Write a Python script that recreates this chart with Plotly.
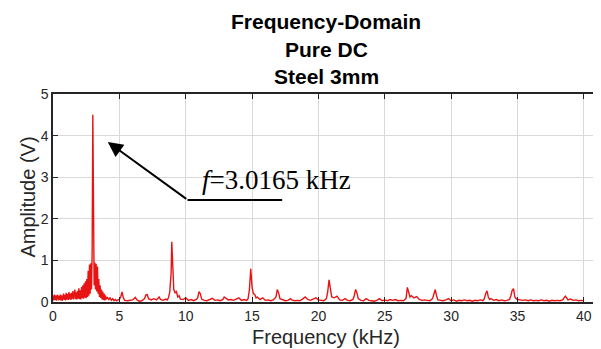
import plotly.graph_objects as go

# Spectrum (frequency in kHz, amplitude in V)
freq_khz = [
    0.00, 0.05, 0.10, 0.15, 0.20, 0.25, 0.30, 0.35, 0.40, 0.45, 0.50, 0.55, 0.60, 0.65, 0.70, 0.75,
    0.80, 0.85, 0.90, 0.95, 1.00, 1.05, 1.10, 1.15, 1.20, 1.25, 1.30, 1.35, 1.40, 1.45, 1.50, 1.55,
    1.60, 1.65, 1.70, 1.75, 1.80, 1.85, 1.90, 1.95, 2.00, 2.05, 2.10, 2.15, 2.20, 2.25, 2.30, 2.35,
    2.40, 2.45, 2.50, 2.55, 2.60, 2.65, 2.70, 2.75, 2.80, 2.85, 2.90, 2.95, 3.00, 3.05, 3.10, 3.15,
    3.20, 3.25, 3.30, 3.35, 3.40, 3.45, 3.50, 3.55, 3.60, 3.65, 3.70, 3.75, 3.80, 3.85, 3.90, 3.95,
    4.00, 4.1, 4.2, 4.3, 4.4, 4.5, 4.6, 4.7, 4.8, 4.9, 5.0, 5.1, 5.2, 5.3, 5.4, 5.6, 5.8, 6.0, 6.1,
    6.2, 6.3, 6.5, 6.7, 6.9, 7.0, 7.1, 7.2, 7.4, 7.6, 7.8, 8.0, 8.1, 8.3, 8.5, 8.6, 8.7, 8.8, 8.9,
    8.95, 9.0, 9.1, 9.2, 9.3, 9.4, 9.5, 9.6, 9.8, 10.0, 10.2, 10.4, 10.6, 10.8, 10.9, 11.0, 11.1,
    11.2, 11.4, 11.6, 11.8, 12.0, 12.2, 12.4, 12.6, 12.8, 12.9, 13.0, 13.2, 13.4, 13.6, 13.8, 14.0,
    14.2, 14.4, 14.6, 14.7, 14.8, 14.9, 15.0, 15.1, 15.2, 15.3, 15.4, 15.6, 15.8, 16.0, 16.2, 16.4,
    16.6, 16.8, 16.9, 17.0, 17.1, 17.3, 17.5, 17.7, 17.9, 18.0, 18.2, 18.4, 18.6, 18.8, 19.0, 19.2,
    19.4, 19.6, 19.8, 20.0, 20.2, 20.4, 20.6, 20.7, 20.8, 20.9, 21.0, 21.2, 21.4, 21.6, 21.8, 22.0,
    22.2, 22.4, 22.6, 22.7, 22.8, 22.9, 23.0, 23.2, 23.4, 23.6, 23.8, 24.0, 24.2, 24.4, 24.6, 24.8,
    25.0, 25.2, 25.4, 25.6, 25.8, 26.0, 26.2, 26.4, 26.6, 26.7, 26.8, 26.9, 27.0, 27.2, 27.4, 27.6,
    27.8, 28.0, 28.2, 28.4, 28.6, 28.7, 28.8, 28.9, 29.0, 29.2, 29.4, 29.6, 29.8, 30.0, 30.2, 30.4,
    30.6, 30.8, 31.0, 31.2, 31.4, 31.6, 31.8, 32.0, 32.2, 32.4, 32.5, 32.6, 32.7, 32.8, 32.9, 33.0,
    33.2, 33.4, 33.6, 33.8, 34.0, 34.2, 34.4, 34.5, 34.6, 34.7, 34.8, 34.9, 35.0, 35.2, 35.4, 35.6,
    35.8, 36.0, 36.2, 36.4, 36.6, 36.8, 37.0, 37.2, 37.4, 37.6, 37.8, 38.0, 38.2, 38.4, 38.5, 38.6,
    38.7, 38.8, 39.0, 39.2, 39.4, 39.6, 39.8, 40.0,
]
amplitude_v = [
    0.15, 0.04, 0.18, 0.05, 0.16, 0.03, 0.14, 0.17, 0.04, 0.15, 0.05, 0.18, 0.04, 0.16, 0.03, 0.14,
    0.20, 0.05, 0.17, 0.04, 0.22, 0.06, 0.19, 0.05, 0.24, 0.07, 0.20, 0.05, 0.22, 0.08, 0.26, 0.06,
    0.21, 0.30, 0.07, 0.23, 0.06, 0.27, 0.08, 0.33, 0.07, 0.28, 0.06, 0.36, 0.09, 0.40, 0.08, 0.45,
    0.10, 0.50, 0.09, 0.55, 0.12, 0.75, 0.15, 0.90, 0.20, 0.93, 0.30, 1.20, 4.50, 2.20, 0.40, 0.95,
    0.30, 0.92, 0.25, 0.85, 0.20, 0.55, 0.12, 0.40, 0.10, 0.30, 0.06, 0.25, 0.05, 0.20, 0.04, 0.16,
    0.06, 0.12, 0.05, 0.10, 0.04, 0.08, 0.03, 0.06, 0.03, 0.05, 0.06, 0.12, 0.24, 0.10, 0.04, 0.03,
    0.04, 0.05, 0.08, 0.11, 0.06, 0.02, 0.03, 0.08, 0.17, 0.18, 0.08, 0.05, 0.08, 0.05, 0.12, 0.06,
    0.04, 0.07, 0.05, 0.10, 0.25, 0.70, 1.45, 0.90, 0.30, 0.22, 0.25, 0.12, 0.15, 0.07, 0.06, 0.10,
    0.04, 0.06, 0.03, 0.06, 0.10, 0.25, 0.20, 0.07, 0.04, 0.03, 0.06, 0.09, 0.04, 0.05, 0.03, 0.06,
    0.12, 0.10, 0.05, 0.06, 0.04, 0.07, 0.10, 0.04, 0.06, 0.04, 0.08, 0.30, 0.80, 0.35, 0.20, 0.18,
    0.10, 0.12, 0.06, 0.10, 0.04, 0.05, 0.03, 0.05, 0.12, 0.30, 0.22, 0.08, 0.05, 0.03, 0.04, 0.08,
    0.05, 0.03, 0.04, 0.03, 0.07, 0.12, 0.06, 0.04, 0.07, 0.10, 0.05, 0.04, 0.03, 0.08, 0.25, 0.53,
    0.30, 0.12, 0.10, 0.14, 0.05, 0.04, 0.08, 0.04, 0.03, 0.06, 0.15, 0.30, 0.22, 0.08, 0.04, 0.03,
    0.08, 0.04, 0.03, 0.02, 0.04, 0.08, 0.03, 0.05, 0.03, 0.06, 0.04, 0.06, 0.03, 0.04, 0.03, 0.08,
    0.35, 0.25, 0.12, 0.15, 0.10, 0.13, 0.06, 0.04, 0.05, 0.04, 0.03, 0.08, 0.20, 0.30, 0.15, 0.05,
    0.04, 0.03, 0.05, 0.08, 0.03, 0.05, 0.02, 0.04, 0.03, 0.05, 0.03, 0.04, 0.02, 0.04, 0.03, 0.05,
    0.03, 0.08, 0.20, 0.27, 0.12, 0.06, 0.08, 0.04, 0.06, 0.03, 0.05, 0.03, 0.04, 0.06, 0.15, 0.28,
    0.32, 0.12, 0.08, 0.06, 0.05, 0.04, 0.05, 0.03, 0.05, 0.03, 0.04, 0.03, 0.05, 0.03, 0.04, 0.02,
    0.04, 0.03, 0.04, 0.03, 0.05, 0.10, 0.14, 0.10, 0.05, 0.07, 0.04, 0.05, 0.03, 0.04, 0.03,
]

x_ticks = [0, 5, 10, 15, 20, 25, 30, 35, 40]
y_ticks = [0, 1, 2, 3, 4, 5]
title_lines = ["Frequency-Domain", "Pure DC", "Steel 3mm"]
peak_label = "<i>f</i>=3.0165 kHz"

AX = "#262626"
GRID = "#d9d9d9"

# page has an 8px body margin, so the figure is drawn 8px in from the top-left corner
OFF = 8
PLOT_L, PLOT_T, PLOT_R, PLOT_B = 53, 94, 601, 302   # plot area in window pixels
PW, PH = PLOT_R - PLOT_L, PLOT_B - PLOT_T


def px(xp):
    return (xp - PLOT_L) / PW


def py(yp):
    return (PLOT_B - yp) / PH


fig = go.Figure()
fig.add_trace(go.Scatter(x=freq_khz, y=amplitude_v, mode="lines",
                         line=dict(color="rgb(232,20,20)", width=1.4),
                         showlegend=False, hoverinfo="skip"))

axis_common = dict(showline=True, linecolor=AX, linewidth=1.5, mirror="ticks",
                   ticks="inside", ticklen=5, tickcolor=AX, tickwidth=1,
                   showgrid=True, gridcolor=GRID, gridwidth=1, zeroline=False,
                   tickfont=dict(family="Liberation Sans, Arial", size=14, color=AX))

fig.update_layout(
    width=601 - OFF, height=349 - OFF,
    margin=dict(l=PLOT_L - OFF, r=0, t=PLOT_T - OFF, b=349 - PLOT_B),
    paper_bgcolor="white", plot_bgcolor="white",
    xaxis=dict(range=[0, 41.14], tickvals=x_ticks, ticktext=[str(v) for v in x_ticks], **axis_common),
    yaxis=dict(range=[0, 5], tickvals=y_ticks, ticktext=[str(v) for v in y_ticks], **axis_common),
)

# white box behind the peak label
fig.add_shape(type="rect", xref="paper", yref="paper", x0=px(180), x1=px(400), y0=py(217), y1=py(148),
              fillcolor="white", line=dict(width=0), layer="between")

# arrow pointing to the peak and its leader line
fig.add_annotation(x=px(108), y=py(142), ax=188 - 108, ay=200 - 142, xref="paper", yref="paper",
                   axref="pixel", ayref="pixel",
                   text="", showarrow=True, arrowhead=2, arrowsize=1.5, arrowwidth=2, arrowcolor="black")
fig.add_shape(type="line", xref="paper", yref="paper", x0=px(188), x1=px(283), y0=py(200), y1=py(200),
              line=dict(color="black", width=2))
fig.add_annotation(x=px(201), y=py(180), xref="paper", yref="paper",
                   xanchor="left", yanchor="middle", text=peak_label, showarrow=False,
                   font=dict(family="Liberation Serif, Times New Roman", size=27, color="black"))

# titles
for i, line in enumerate(title_lines):
    fig.add_annotation(x=0.5, y=py(22 + 27 * i), xref="paper", yref="paper",
                       xanchor="center", yanchor="middle", text=f"<b>{line}</b>", showarrow=False,
                       font=dict(family="Liberation Sans, Arial", size=21, color="black"))

fig.add_annotation(x=0.5, y=py(337), xref="paper", yref="paper", xanchor="center",
                   yanchor="middle", text="Frequency (kHz)", showarrow=False,
                   font=dict(family="Liberation Sans, Arial", size=20, color=AX))
fig.add_annotation(x=px(27), y=py(197.5), xref="paper", yref="paper",
                   xanchor="center", yanchor="middle", text="Amplitude (V)", textangle=-90,
                   showarrow=False, font=dict(family="Liberation Sans, Arial", size=20, color=AX))

fig.write_html("out.html")
